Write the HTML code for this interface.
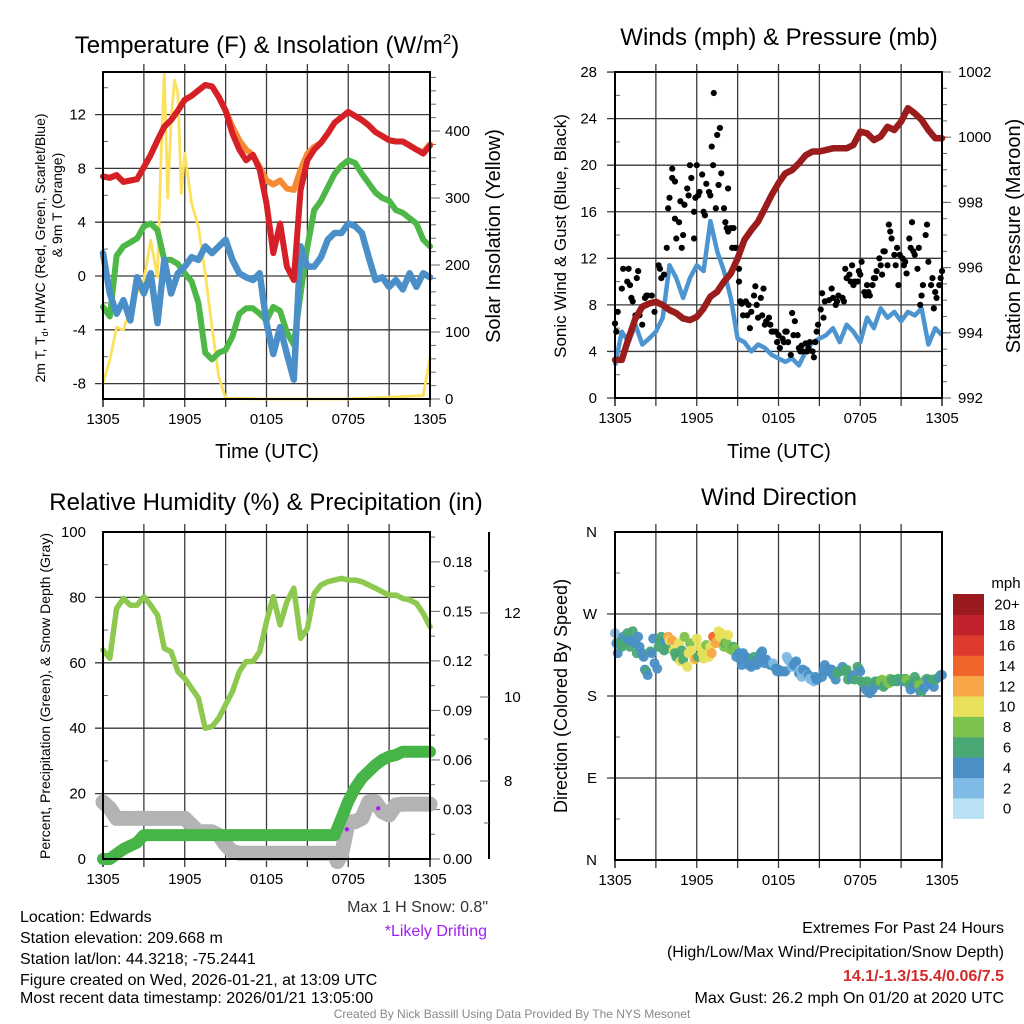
<!DOCTYPE html>
<html><head><meta charset="utf-8">
<style>
html,body{margin:0;padding:0;background:#fff;}
svg{display:block;font-family:"Liberation Sans",Arial,sans-serif;}
</style></head>
<body>
<svg id="fig" width="1024" height="1024" viewBox="0 0 1024 1024" xmlns="http://www.w3.org/2000/svg">
<rect x="0" y="0" width="1024" height="1024" fill="#fff"/>
<g id="g1"></g>
<g id="g2"></g>
<g id="g3"></g>
<g id="g4"></g>
<g id="txt">
<text x="267" y="53" font-size="24" text-anchor="middle">Temperature (F) &amp; Insolation (W/m<tspan dy="-9" font-size="15">2</tspan><tspan dy="9">)</tspan></text>
<text x="779" y="45" font-size="24" text-anchor="middle">Winds (mph) &amp; Pressure (mb)</text>
<text x="266" y="510" font-size="24" text-anchor="middle">Relative Humidity (%) &amp; Precipitation (in)</text>
<text x="779" y="505" font-size="24" text-anchor="middle">Wind Direction</text>
<text x="267" y="458" font-size="20" text-anchor="middle">Time (UTC)</text>
<text x="779" y="458" font-size="20" text-anchor="middle">Time (UTC)</text>
<text transform="translate(45,248) rotate(-90)" font-size="14" text-anchor="middle">2m T, T<tspan font-size="9" dy="3">d</tspan><tspan dy="-3">, HI/WC (Red, Green, Scarlet/Blue)</tspan></text>
<text transform="translate(62,205) rotate(-90)" font-size="14" text-anchor="middle">&amp; 9m T (Orange)</text>
<text transform="translate(500,236) rotate(-90)" font-size="20" text-anchor="middle">Solar Insolation (Yellow)</text>
<text transform="translate(566,236) rotate(-90)" font-size="17" text-anchor="middle">Sonic Wind &amp; Gust (Blue, Black)</text>
<text transform="translate(1020,236) rotate(-90)" font-size="20" text-anchor="middle">Station Pressure (Maroon)</text>
<text transform="translate(50,696) rotate(-90)" font-size="14" text-anchor="middle">Percent, Precipitation (Green), &amp; Snow Depth (Gray)</text>
<text transform="translate(567,696) rotate(-90)" font-size="18" text-anchor="middle">Direction (Colored By Speed)</text>
<text x="1006" y="588" font-size="15" text-anchor="middle">mph</text>
<text x="488" y="912" font-size="16" text-anchor="end" fill="#333">Max 1 H Snow: 0.8"</text>
<text x="487" y="936" font-size="16" text-anchor="end" fill="#a020f0">*Likely Drifting</text>
<text x="20" y="922" font-size="16">Location: Edwards</text>
<text x="20" y="943" font-size="16">Station elevation: 209.668 m</text>
<text x="20" y="964" font-size="16">Station lat/lon: 44.3218; -75.2441</text>
<text x="20" y="985" font-size="16">Figure created on Wed, 2026-01-21, at 13:09 UTC</text>
<text x="20" y="1003" font-size="16">Most recent data timestamp: 2026/01/21 13:05:00</text>
<text x="1004" y="933" font-size="16" text-anchor="end">Extremes For Past 24 Hours</text>
<text x="1004" y="957" font-size="16" text-anchor="end">(High/Low/Max Wind/Precipitation/Snow Depth)</text>
<text x="1004" y="981" font-size="16" text-anchor="end" font-weight="bold" fill="#d42a2a">14.1/-1.3/15.4/0.06/7.5</text>
<text x="1004" y="1003" font-size="16" text-anchor="end">Max Gust: 26.2 mph On 01/20 at 2020 UTC</text>
<text x="512" y="1018" font-size="12" text-anchor="middle" fill="#888">Created By Nick Bassill Using Data Provided By The NYS Mesonet</text>
</g>
</svg>
<script>
// ---------- Panel 1 data (hours since 1305 UTC) ----------
const tHours = [0,0.5,1,1.5,2,2.5,3,3.5,4,4.5,5,5.5,6,6.5,7,7.5,8,8.5,9,9.5,10,10.5,11,11.5,12,12.5,13,13.5,14,14.5,15,15.5,16,16.5,17,17.5,18,18.5,19,19.5,20,20.5,21,21.5,22,22.5,23,23.5,24];
const tempRed = [7.4,7.3,7.5,7.0,7.1,7.2,8.1,9.0,10.1,11.1,11.6,12.3,13.1,13.4,13.8,14.2,14.1,13.3,12.3,10.6,9.4,8.6,9.0,7.9,5.4,1.7,3.9,0.7,-0.3,6.4,8.6,9.4,9.9,10.6,11.4,11.8,12.2,11.9,11.6,11.2,10.7,10.4,10.1,10.0,10.0,9.7,9.4,9.1,9.7];
const temp9m = [7.4,7.3,7.5,7.0,7.1,7.2,8.1,9.0,10.1,11.1,11.6,12.3,13.1,13.4,13.8,14.2,14.1,13.3,12.3,11.1,10.1,9.4,9.0,8.1,7.1,6.8,7.1,6.5,6.4,7.9,9.1,9.6,9.9,10.6,11.4,11.8,12.2,11.9,11.6,11.2,10.7,10.4,10.1,10.0,10.0,9.7,9.4,9.2,9.8];
const dewGreen = [-2.3,-3.0,1.5,2.2,2.5,2.8,3.7,3.9,3.4,1.2,1.2,0.9,0.2,-0.4,-2.0,-5.7,-6.2,-5.7,-5.5,-4.5,-2.8,-2.4,-2.4,-2.8,-3.3,-2.3,-2.6,-4.2,-5.1,-1.3,2.2,4.9,5.6,6.6,7.6,8.2,8.6,8.4,7.6,6.9,6.2,5.8,5.6,4.9,4.7,4.3,3.9,2.7,2.2];
const wcBlue = [1.7,-1.3,-2.8,-1.8,-3.3,-0.1,-1.3,0.2,-3.5,1.2,-1.3,0.2,0.7,1.4,1.2,2.2,1.7,2.2,2.7,1.2,0.2,-0.1,-0.3,0.2,-3.5,-5.8,-3.8,-5.8,-7.7,2.2,0.7,0.7,1.4,2.7,3.2,3.2,3.9,3.7,3.2,1.4,-0.3,-0.1,-0.8,-0.3,-1.0,0.2,-0.8,0.2,-0.1];
const insolHours = [0,0.5,1,1.5,2,2.5,3,3.5,4,4.25,4.5,4.75,5,5.25,5.5,5.75,6,6.5,7,7.5,8,8.5,9,12,18,23.5,24];
const insolValues = [24,58,107,103,137,158,178,237,182,357,487,300,416,476,457,307,367,292,257,188,107,33,1,0,0,5,62];
const tempTicks = [-8,-4,0,4,8,12];
const insolTicks = [0,100,200,300,400];
const timeLabels = ["1305","1905","0105","0705","1305"];

// ---------- Panel 2 data ----------
const windBlue = [2.8,5.7,4.8,6.3,4.6,5.1,5.7,6.9,11.4,10.3,8.6,10.3,11.4,10.9,15.2,12.6,10.9,8.6,5.1,4.8,4.0,4.6,4.3,3.7,3.4,3.1,3.4,2.8,4.0,4.8,5.1,5.4,6.0,4.8,6.3,5.7,4.8,6.9,6.0,7.7,6.9,7.4,6.6,7.4,7.1,7.7,4.6,6.0,5.4];
const pressure = [993.17,993.17,993.83,994.44,994.80,994.90,994.95,994.85,994.70,994.60,994.44,994.39,994.49,994.75,995.11,995.26,995.57,995.82,996.28,996.85,997.15,997.41,997.82,998.23,998.59,998.89,998.99,999.20,999.45,999.56,999.56,999.61,999.66,999.66,999.66,999.76,1000.17,1000.12,999.91,1000.02,1000.32,1000.22,1000.48,1000.89,1000.73,1000.53,1000.22,999.97,999.97];
const gustHours = [0.0,0.1,0.2,0.5,0.6,0.9,1.0,1.1,1.2,1.3,1.5,1.6,1.7,1.8,2.0,2.2,2.3,2.4,2.7,2.9,3.2,3.3,3.4,3.6,3.8,3.9,4.0,4.2,4.2,4.4,4.4,4.5,4.7,4.8,4.9,5.0,5.1,5.3,5.4,5.5,5.6,5.8,5.8,5.9,6.0,6.1,6.2,6.4,6.5,6.6,6.7,6.9,7.0,7.1,7.25,7.2,7.4,7.5,7.6,7.7,7.8,8.0,8.1,8.2,8.3,8.3,8.5,8.6,8.7,8.8,8.9,9.1,9.1,9.2,9.3,9.4,9.6,9.7,9.8,9.9,10.0,10.2,10.3,10.4,10.5,10.7,10.8,10.9,11.0,11.1,11.3,11.4,11.5,11.6,11.8,11.9,12.0,12.1,12.3,12.4,12.5,12.6,12.7,12.9,13.0,13.1,13.2,13.4,13.5,13.6,13.7,13.8,14.0,14.1,14.2,14.3,14.5,14.6,14.7,14.8,14.9,15.1,15.2,15.3,15.4,15.7,15.9,16.0,16.2,16.3,16.4,16.7,16.8,16.9,17.0,17.2,17.3,17.4,17.5,17.6,17.8,17.9,18.0,18.1,18.3,18.4,18.5,18.6,18.7,18.9,19.0,19.1,19.2,19.4,19.5,19.6,19.7,19.8,20.0,20.1,20.2,20.3,20.5,20.6,20.7,20.8,20.9,21.1,21.2,21.3,21.4,21.6,21.7,21.8,21.9,22.0,22.2,22.3,22.4,22.5,22.6,22.8,22.9,23.0,23.2,23.3,23.4,23.5,23.6,23.8,23.9,24.0];
const gustValues = [6.4,5.7,7.4,9.4,11.1,10.0,11.1,9.7,8.6,8.3,7.1,10.3,10.9,7.1,6.3,8.6,8.8,8.8,8.8,7.4,11.4,11.1,10.3,10.6,12.9,16.3,17.2,19.7,18.9,18.6,15.4,13.7,15.1,16.9,12.9,14.0,16.6,18.0,17.4,20.0,18.9,13.7,16.0,17.2,20.0,17.4,17.7,19.2,16.0,15.7,18.4,17.7,17.4,21.6,26.2,20.0,16.3,22.6,18.3,23.2,19.3,16.3,15.1,14.6,18.0,14.3,14.6,12.9,14.6,12.9,12.9,11.1,10.0,8.3,8.1,7.1,8.3,7.1,8.0,6.0,7.4,8.8,9.6,8.0,6.9,8.6,7.1,9.4,6.3,6.6,6.9,6.3,5.7,5.7,5.7,4.8,5.4,4.3,5.1,4.8,5.7,5.7,4.8,3.7,7.3,5.4,6.6,5.4,4.3,4.0,4.5,4.0,4.7,4.0,4.3,4.8,4.0,3.5,4.8,5.7,6.3,7.6,9.0,6.9,8.3,8.4,9.4,8.6,8.0,8.3,8.8,8.6,8.3,11.1,10.3,10.6,10.0,11.4,9.7,10.0,10.0,10.9,10.6,11.7,9.1,8.8,9.7,9.1,8.8,9.7,10.3,10.3,10.9,12.0,11.4,10.6,12.6,12.6,11.4,14.9,14.3,13.7,12.3,11.4,12.9,9.7,12.3,12.0,11.4,11.7,10.7,13.7,12.9,15.1,12.6,12.3,11.1,12.9,8.0,8.8,9.7,14.0,14.9,11.7,9.7,10.3,7.7,9.1,8.6,9.7,10.3,10.9];
const windTicks = [0,4,8,12,16,20,24,28];
const pressTicks = [992,994,996,998,1000,1002];

// ---------- Panel 3 data ----------
const rhValues = [63.9,61.4,76.6,79.7,77.6,77.6,80.2,77.6,74.6,64.4,63.4,57.3,55.2,52.2,49.2,40.0,40.5,43.1,47.2,51.2,57.3,60.4,60.4,63.4,72.6,80.2,71.6,78.7,82.8,67.5,70.5,81.2,83.8,84.8,85.3,85.8,85.3,85.3,84.8,83.8,82.8,81.7,80.7,80.7,79.7,79.2,78.2,75.1,71.0];
const precipHours = [0,0.5,1,1.5,2,2.5,3,17,17.3,17.5,18,18.5,19,19.5,20,20.5,21,21.5,22,24];
const precipValues = [0,0,0.003,0.006,0.008,0.010,0.0145,0.0145,0.0206,0.0246,0.035,0.043,0.049,0.053,0.057,0.060,0.062,0.063,0.065,0.065];
const snowHours = [0,0.5,1,6,6.5,7,8,8.5,9,9.5,10,17,17.2,17.5,18,18.5,19,19.5,20,20.5,21,21.5,22,24];
const snowValues = [7.5,7.35,7.11,7.11,6.95,6.79,6.79,6.71,6.48,6.32,6.28,6.28,6.08,6.24,7.03,7.03,7.11,7.5,7.5,7.27,7.19,7.43,7.45,7.45];
const driftHours = [17.9,20.2];
const driftValues = [6.85,7.35];
const rhTicks = [0,20,40,60,80,100];
const precipTicks = [0,0.03,0.06,0.09,0.12,0.15,0.18];
const precipTickLabels = ["0.00","0.03","0.06","0.09","0.12","0.15","0.18"];
const snowTicks = [8,10,12];

// ---------- Panel 4 data ----------
const dirHours = [0.0,0.1,0.2,0.4,0.5,0.6,0.7,0.9,1.0,1.1,1.2,1.3,1.5,1.6,1.7,1.8,2.0,2.1,2.2,2.3,2.4,2.6,2.7,2.8,2.9,3.1,3.2,3.3,3.4,3.6,3.7,3.8,3.9,4.0,4.2,4.3,4.4,4.5,4.7,4.8,4.9,5.0,5.1,5.3,5.4,5.5,5.6,5.8,5.9,6.0,6.1,6.2,6.4,6.5,6.6,6.7,6.9,7.0,7.1,7.2,7.4,7.5,7.6,7.7,7.8,8.0,8.1,8.2,8.3,8.4,8.6,8.7,8.8,8.9,9.1,9.2,9.3,9.4,9.6,9.7,9.8,9.9,10.0,10.2,10.3,10.4,10.5,10.7,10.8,10.9,11.0,11.1,11.3,11.4,11.5,11.6,11.8,11.9,12.0,12.1,12.2,12.4,12.5,12.6,12.7,12.9,13.0,13.1,13.2,13.3,13.5,13.6,13.7,13.8,14.0,14.1,14.2,14.3,14.4,14.6,14.7,14.8,14.9,15.2,15.3,15.4,15.6,15.7,15.8,15.9,16.0,16.2,16.3,16.4,16.5,16.7,16.8,16.9,17.0,17.1,17.3,17.4,17.5,17.6,17.8,17.9,18.0,18.1,18.2,18.4,18.5,18.6,18.7,18.9,19.0,19.1,19.2,19.3,19.5,19.6,19.7,19.8,20.0,20.1,20.2,20.3,20.4,20.6,20.7,20.8,20.9,21.1,21.2,21.3,21.4,21.6,21.7,21.8,21.9,22.0,22.2,22.3,22.4,22.5,22.7,22.8,22.9,23.0,23.1,23.3,23.4,23.5,23.6,23.8,23.9,24.0];
const dirValues = [249,238,227,240,234,245,238,249,241,234,241,251,238,227,245,234,227,223,209,207,203,229,227,243,216,210,234,240,245,230,240,232,245,241,241,230,227,223,238,218,230,220,245,212,227,238,230,220,221,243,223,234,227,221,230,236,223,234,227,245,238,241,251,245,249,234,238,238,247,232,230,234,232,223,227,220,214,227,223,221,214,220,212,223,216,214,220,227,229,220,216,220,216,214,214,216,210,207,209,207,207,207,207,223,220,216,212,214,216,218,205,209,201,209,207,203,203,199,198,196,201,198,199,201,207,214,210,207,209,209,203,198,205,207,207,212,209,207,209,198,199,199,203,198,212,210,207,196,194,187,196,185,183,187,194,196,192,196,196,198,190,192,196,194,199,198,196,198,196,199,198,196,198,199,198,192,187,194,190,201,196,192,185,185,189,198,199,196,194,198,190,198,199,201,203,203];
const dirSpeeds = [2,4,4,6,6,4,6,6,4,6,4,6,4,6,4,4,4,4,4,6,4,6,4,4,4,4,6,6,6,6,4,6,12,10,12,10,6,6,10,10,6,6,8,10,10,8,10,10,12,10,6,10,10,10,10,8,10,10,12,14,12,12,10,10,10,8,6,8,10,8,8,6,8,4,4,4,4,4,4,4,4,4,4,6,4,4,4,4,4,4,4,4,4,4,4,2,4,4,4,4,4,4,4,2,2,2,2,4,4,4,4,2,2,4,4,2,4,2,2,2,4,4,4,4,4,4,4,4,4,4,4,4,6,6,6,4,6,6,6,6,6,4,4,6,6,6,4,6,6,4,6,4,4,4,6,6,4,6,8,8,6,6,8,8,8,6,6,6,6,6,6,4,6,6,8,6,4,6,4,6,6,8,4,6,4,8,6,4,4,6,4,6,6,4,6,4];
const dirTicks = [0,90,180,270,360];
const dirTickLabels = ["N","E","S","W","N"];
const cbLabels = ["0","2","4","6","8","10","12","14","16","18","20+"];
const cbColors = ["#b9e2f7","#7fbbe5","#4a8fc5","#4aa874","#7cc24e","#e7e05a","#f8a748","#f2652a","#de3a2d","#c1222b","#9a1a1f"];

// ---------- helpers ----------
const NS = "http://www.w3.org/2000/svg";
function mk(tag, parent, attrs){
  const e = document.createElementNS(NS, tag);
  for (const k in attrs) e.setAttribute(k, attrs[k]);
  parent.appendChild(e);
  return e;
}
function poly(xs, ys, fx, fy){
  return xs.map((h,i)=>fx(h).toFixed(1)+","+fy(ys[i]).toFixed(1)).join(" ");
}
function frame(g, L, T, R, B, name){
  for (let h=3; h<24; h+=3){
    const x = L + h*(R-L)/24;
    const ln = mk("line", g, {x1:x, y1:T-8, x2:x, y2:B+8, stroke:"#3a3a3a","stroke-width":1.3});
    
    
  }
  for (const h of [0,24]){
    const x = L + h*(R-L)/24;
    const ln = mk("line", g, {x1:x, y1:B, x2:x, y2:B+8, stroke:"#000","stroke-width":1.3});
    
    
  }
  const fx = h => L + h*(R-L)/24;
  timeLabels.forEach((lab,i)=>{
    const t = mk("text", g, {x:fx(i*6), y:B+25, "font-size":15, "text-anchor":"middle"});
    t.textContent = lab;
    
    
  });
}
function hgrid(g, L, R, y, name){
  const ln = mk("line", g, {x1:L-8, y1:y, x2:R, y2:y, stroke:"#3a3a3a","stroke-width":1.3});
  
  
}
function box(g, L, T, R, B, name){
  const r = mk("rect", g, {x:L, y:T, width:R-L, height:B-T, fill:"none", stroke:"#000", "stroke-width":2});
  
  
}
function label(g, x, y, s, anchor, size, name){
  const t = mk("text", g, {x:x, y:y, "font-size":size||15, "text-anchor":anchor||"end"});
  t.textContent = s;
  
  
  return t;
}
function minor(g, x, y, len, name){
  const ln = mk("line", g, {x1:x, y1:y, x2:x+len, y2:y, stroke:"#666","stroke-width":1});
  
  
}

// ---------- Panel 1 ----------
(function(){
  const g = document.getElementById("g1");
  const L=103,T=72,R=430,B=399;
  const fx = h => L + h*(R-L)/24;
  const fy = v => 276 - v*13.45;
  const fi = w => 399 - w*0.67;
  frame(g,L,T,R,B,"temperature");
  for (let v=-9; v<=15; v+=1){ if (v%2===0 && v%4!==0) minor(g, L, fy(v), 5, 'temperature-minor-tick'); }
  tempTicks.forEach(v=>{ hgrid(g,L,R,fy(v),'temperature-gridline'); label(g,86,fy(v)+5,String(v),"end",15,'temperature-y-tick-label'); });
  for (let w=20; w<=480; w+=20){ minor(g, R, fi(w), 6, 'insolation-minor-tick'); }
  insolTicks.forEach(w=>{ minor(g, R, fi(w), 10, 'insolation-major-tick'); label(g,445,fi(w)+5,String(w),"start",15,'insolation-y-tick-label'); });
  const series = [
    {d:insolValues, h:insolHours, c:"#fde05c", w:2.8, f:fi, n:"insolation-line"},
    {d:dewGreen, h:tHours, c:"#4db848", w:6, f:fy, n:"dewpoint-line"},
    {d:wcBlue, h:tHours, c:"#4a8fc8", w:6.5, f:fy, n:"wind-chill-line"},
    {d:temp9m, h:tHours, c:"#f58a33", w:6, f:fy, n:"temp-9m-line"},
    {d:tempRed, h:tHours, c:"#d62027", w:6, f:fy, n:"temp-2m-line"}
  ];
  series.forEach(s=>{
    const p = mk("polyline", g, {points:poly(s.h,s.d,fx,s.f), fill:"none", stroke:s.c, "stroke-width":s.w, "stroke-linejoin":"round","stroke-linecap":"round"});
    
    
  });
  box(g,L,T,R,B,'temperature-plot-frame');
})();

// ---------- Panel 2 ----------
(function(){
  const g = document.getElementById("g2");
  const L=615,T=72,R=942,B=398;
  const fx = h => L + h*(R-L)/24;
  const fy = v => 398 - v*11.64;
  const fp = p => 398 - (p-992)*32.6;
  frame(g,L,T,R,B,"wind");
  for (let v=2; v<28; v+=4) minor(g, L, fy(v), 5, 'wind-minor-tick');
  windTicks.forEach(v=>{ hgrid(g,L,R,fy(v),'wind-gridline'); label(g,597,fy(v)+5,String(v),"end",15,'wind-y-tick-label'); });
  for (let p=992.5; p<1002; p+=0.5) minor(g, R, fp(p), 5, 'pressure-minor-tick');
  pressTicks.forEach(p=>{ minor(g, R, fp(p), 9, 'pressure-major-tick'); label(g,958,fp(p)+5,String(p),"start",15,'pressure-y-tick-label'); });
  const wl = mk("polyline", g, {points:poly(tHours,windBlue,fx,fy), fill:"none", stroke:"#4d95d0","stroke-width":4.5,"stroke-linejoin":"round"});
  
  
  gustHours.forEach((h,i)=>{
    const c = mk("circle", g, {cx:fx(h), cy:fy(gustValues[i]), r:3.1, fill:"#000"});
    
    
  });
  const pl = mk("polyline", g, {points:poly(tHours,pressure,fx,fp), fill:"none", stroke:"#9b1c1c","stroke-width":6.5,"stroke-linejoin":"round","stroke-linecap":"round"});
  
  
  box(g,L,T,R,B,'wind-plot-frame');
})();

// ---------- Panel 3 ----------
(function(){
  const g = document.getElementById("g3");
  const L=103,T=532,R=430,B=859;
  const fx = h => L + h*(R-L)/24;
  const fy = v => 859 - v*3.27;
  const fp = p => 859 - p*1651;
  const fs = s => 781 - (s-8)*42;
  frame(g,L,T,R,B,"humidity");
  for (let v=10; v<100; v+=20) minor(g, L, fy(v), 5, 'humidity-minor-tick');
  rhTicks.forEach(v=>{ if (v>0 && v<100) hgrid(g,L,R,fy(v),'humidity-gridline'); label(g,86,fy(v)+5,String(v),"end",15,'humidity-y-tick-label'); });
  for (let p=0.015; p<0.2; p+=0.03) minor(g, R, fp(p), 5, 'precip-minor-tick');
  precipTicks.forEach((p,i)=>{ minor(g, R, fp(p), 10, 'precip-major-tick'); label(g,443,fp(p)+5,precipTickLabels[i],"start",15,'precip-y-tick-label'); });
  const ax = mk("line", g, {x1:489, y1:532, x2:489, y2:859, stroke:"#000","stroke-width":2});
  
  
  for (let s=7; s<=13; s+=2) { minor(g, 489, fs(s), -5, 'snow-minor-tick'); }
  snowTicks.forEach(s=>{ minor(g, 489, fs(s), -9, 'snow-major-tick'); label(g,504,fs(s)+5,String(s),"start",15,'snow-y-tick-label'); });
  const sl = mk("polyline", g, {points:poly(snowHours,snowValues,fx,fs), fill:"none", stroke:"#b3b3b3","stroke-width":15,"stroke-linejoin":"round","stroke-linecap":"round"});
  
  
  const pr = mk("polyline", g, {points:poly(precipHours,precipValues,fx,fp), fill:"none", stroke:"#46b446","stroke-width":12,"stroke-linejoin":"round","stroke-linecap":"round"});
  
  
  const rh = mk("polyline", g, {points:poly(tHours,rhValues,fx,fy), fill:"none", stroke:"#8dc84f","stroke-width":5.5,"stroke-linejoin":"round","stroke-linecap":"round"});
  
  
  driftHours.forEach((h,i)=>{
    const c = mk("circle", g, {cx:fx(h), cy:fs(driftValues[i]), r:2.2, fill:"#a020f0"});
    
    
  });
  box(g,L,T,R,B,'humidity-plot-frame');
})();

// ---------- Panel 4 ----------
(function(){
  const g = document.getElementById("g4");
  const L=615,T=532,R=942,B=860;
  const fx = h => L + h*(R-L)/24;
  const fd = d => 532 + (360-d)*328/360;
  frame(g,L,T,R,B,"direction");
  for (let d=45; d<360; d+=90) minor(g, L, fd(d), 5, 'direction-minor-tick');
  dirTicks.forEach((d,i)=>{ if (d>0 && d<360) hgrid(g,L,R,fd(d),'direction-gridline'); label(g,597,fd(d)+5,dirTickLabels[i],"end",15,'direction-y-tick-label'); });
  dirHours.forEach((h,i)=>{
    const idx = Math.min(10, Math.floor(dirSpeeds[i]/2));
    const c = mk("circle", g, {cx:fx(h), cy:fd(dirValues[i]), r:5, fill:cbColors[idx], "fill-opacity":0.95});
    
    
  });
  box(g,L,T,R,B,'direction-plot-frame');
  const cbTop=594, cbH=20.4;
  cbLabels.forEach((lab,i)=>{
    const y = cbTop + (10-i)*cbH;
    const r = mk("rect", g, {x:953, y:y, width:31, height:cbH+0.5, fill:cbColors[i]});
    
    
    label(g, 1007, y+cbH/2+5.5, lab, "middle", 15, 'colorbar-label');
  });
})();
</script>
</body></html>
